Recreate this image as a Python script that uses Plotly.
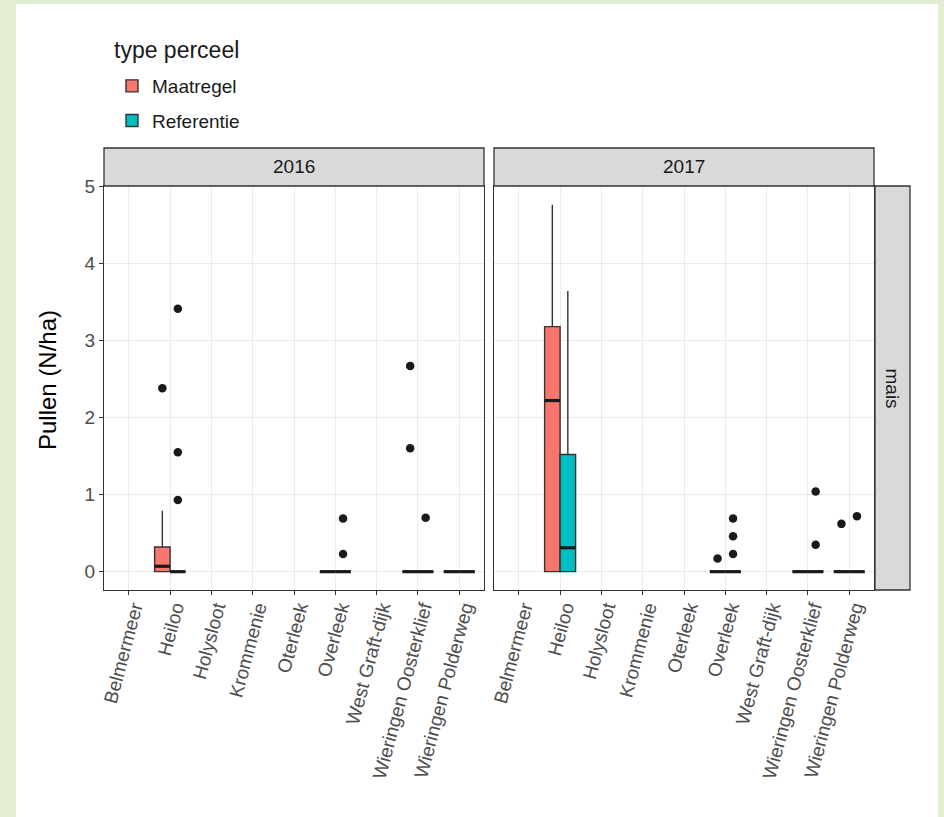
import plotly.graph_objects as go

# ---------------- data ----------------
sites = ["Belmermeer", "Heiloo", "Holysloot", "Krommenie", "Oterleek",
         "Overleek", "West Graft-dijk", "Wieringen Oosterklief", "Wieringen Polderweg"]
years = ["2016", "2017"]
types = ["Maatregel", "Referentie"]

box_sites = ["Heiloo", "Overleek", "Wieringen Oosterklief", "Wieringen Polderweg"]

maat_2016_low = [0.0, 0.0, 0.0, 0.0]
maat_2016_q1 = [0.0, 0.0, 0.0, 0.0]
maat_2016_med = [0.07, 0.0, 0.0, 0.0]
maat_2016_q3 = [0.32, 0.0, 0.0, 0.0]
maat_2016_high = [0.79, 0.0, 0.0, 0.0]

ref_2016_low = [0.0, 0.0, 0.0, 0.0]
ref_2016_q1 = [0.0, 0.0, 0.0, 0.0]
ref_2016_med = [0.0, 0.0, 0.0, 0.0]
ref_2016_q3 = [0.0, 0.0, 0.0, 0.0]
ref_2016_high = [0.0, 0.0, 0.0, 0.0]

maat_2017_low = [0.0, 0.0, 0.0, 0.0]
maat_2017_q1 = [0.0, 0.0, 0.0, 0.0]
maat_2017_med = [2.22, 0.0, 0.0, 0.0]
maat_2017_q3 = [3.18, 0.0, 0.0, 0.0]
maat_2017_high = [4.76, 0.0, 0.0, 0.0]

ref_2017_low = [0.0, 0.0, 0.0, 0.0]
ref_2017_q1 = [0.0, 0.0, 0.0, 0.0]
ref_2017_med = [0.31, 0.0, 0.0, 0.0]
ref_2017_q3 = [1.52, 0.0, 0.0, 0.0]
ref_2017_high = [3.64, 0.0, 0.0, 0.0]

out_2016_site = ["Heiloo", "Heiloo", "Heiloo", "Heiloo", "Overleek", "Overleek",
                 "Wieringen Oosterklief", "Wieringen Oosterklief", "Wieringen Oosterklief"]
out_2016_type = ["Maatregel", "Referentie", "Referentie", "Referentie", "Referentie", "Referentie",
                 "Maatregel", "Maatregel", "Referentie"]
out_2016_value = [2.38, 3.41, 1.55, 0.93, 0.69, 0.23, 2.67, 1.60, 0.70]

out_2017_site = ["Overleek", "Overleek", "Overleek", "Overleek",
                 "Wieringen Oosterklief", "Wieringen Oosterklief",
                 "Wieringen Polderweg", "Wieringen Polderweg"]
out_2017_type = ["Maatregel", "Referentie", "Referentie", "Referentie",
                 "Referentie", "Referentie", "Maatregel", "Referentie"]
out_2017_value = [0.17, 0.69, 0.46, 0.23, 1.04, 0.35, 0.62, 0.72]

y_ticks = [0, 1, 2, 3, 4, 5]

# ---------------- styling ----------------
W, H = 944, 817
L, R, T, B = 104, 874, 186, 590   # plot area in px
colors = {"Maatregel": "#F8766D", "Referentie": "#00BFC4"}
dodge = {"Maatregel": -0.1875, "Referentie": 0.1875}
box_w = 0.375
FONT = "Liberation Sans, Arial, sans-serif"


def px_x(p):
    return (p - L) / (R - L)


def px_y(p):
    return (B - p) / (B - T)


stats = {
    ("2016", "Maatregel"): (maat_2016_low, maat_2016_q1, maat_2016_med, maat_2016_q3, maat_2016_high),
    ("2016", "Referentie"): (ref_2016_low, ref_2016_q1, ref_2016_med, ref_2016_q3, ref_2016_high),
    ("2017", "Maatregel"): (maat_2017_low, maat_2017_q1, maat_2017_med, maat_2017_q3, maat_2017_high),
    ("2017", "Referentie"): (ref_2017_low, ref_2017_q1, ref_2017_med, ref_2017_q3, ref_2017_high),
}
outliers = {
    "2016": (out_2016_site, out_2016_type, out_2016_value),
    "2017": (out_2017_site, out_2017_type, out_2017_value),
}

fig = go.Figure()
axes = {"2016": ("x", "y"), "2017": ("x2", "y2")}

for yi, yr in enumerate(years):
    xa, ya = axes[yr]
    for t in types:
        low, q1, med, q3, high = stats[(yr, t)]
        xs = [sites.index(s) + 1 + dodge[t] for s in box_sites]
        fig.add_trace(go.Box(
            x=xs, q1=q1, median=med, q3=q3, lowerfence=low, upperfence=high,
            width=box_w, whiskerwidth=0, boxpoints=False,
            fillcolor=colors[t], line=dict(color="#333333", width=1.4),
            name=t, legendgroup=t, showlegend=(yi == 0),
            xaxis=xa, yaxis=ya, hoverinfo="skip",
        ))
        # thick median lines (ggplot fatten)
        mx, my = [], []
        for xv, mv in zip(xs, med):
            mx += [xv - box_w / 2, xv + box_w / 2, None]
            my += [mv, mv, None]
        fig.add_trace(go.Scatter(
            x=mx, y=my, mode="lines", line=dict(color="#1a1a1a", width=3.2),
            showlegend=False, xaxis=xa, yaxis=ya, hoverinfo="skip",
        ))
    osite, otype, oval = outliers[yr]
    fig.add_trace(go.Scatter(
        x=[sites.index(s) + 1 + dodge[t] for s, t in zip(osite, otype)],
        y=oval, mode="markers",
        marker=dict(color="#1a1a1a", size=8.5),
        showlegend=False, xaxis=xa, yaxis=ya, hoverinfo="skip",
    ))

xcommon = dict(
    range=[0.4, 9.6], tickmode="array", tickvals=list(range(1, len(sites) + 1)), ticktext=sites,
    tickangle=-75, tickfont=dict(size=19, color="#4d4d4d", family=FONT),
    ticklabelstandoff=-6, ticklabelshift=5,
    ticks="outside", ticklen=4, tickcolor="#333333", tickwidth=1.2,
    showgrid=True, gridcolor="#ebebeb", gridwidth=1.2, zeroline=False,
    showline=True, mirror=True, linecolor="#333333", linewidth=1.3,
)
ycommon = dict(
    range=[-0.238, 5.004], tickmode="array", tickvals=y_ticks,
    tickfont=dict(size=19, color="#4d4d4d", family=FONT),
    ticks="outside", ticklen=4, tickcolor="#333333", tickwidth=1.2,
    showgrid=True, gridcolor="#ebebeb", gridwidth=1.2, zeroline=False,
    showline=True, mirror=True, linecolor="#333333", linewidth=1.3,
)

p1 = [px_x(104), px_x(484)]
p2 = [px_x(494), px_x(874)]

fig.update_layout(
    width=W, height=H,
    margin=dict(l=L, r=W - R, t=T, b=H - B, autoexpand=False),
    paper_bgcolor="#e2edd3", plot_bgcolor="white",
    font=dict(family=FONT, color="#1a1a1a"),
    boxmode="overlay",
    xaxis=dict(domain=p1, anchor="y", **xcommon),
    xaxis2=dict(domain=p2, anchor="y2", **xcommon),
    yaxis=dict(domain=[0, 1], anchor="x", **ycommon),
    yaxis2=dict(domain=[0, 1], anchor="x2", matches="y", **{**ycommon, "showticklabels": False, "ticks": ""}),
    legend=dict(
        x=px_x(112), y=px_y(67), xanchor="left", yanchor="top",
        bgcolor="rgba(0,0,0,0)",
        font=dict(size=19, color="#1a1a1a", family=FONT),
        tracegroupgap=7,
    ),
    showlegend=True,
)

shapes = [
    # white card
    dict(type="rect", xref="paper", yref="paper", x0=px_x(16), x1=px_x(938), y0=px_y(4), y1=px_y(817),
         fillcolor="white", line=dict(width=0), layer="below"),
    # top strips
    dict(type="rect", xref="paper", yref="paper", x0=p1[0], x1=p1[1], y0=px_y(186), y1=px_y(148),
         fillcolor="#d9d9d9", line=dict(color="#333333", width=1.3)),
    dict(type="rect", xref="paper", yref="paper", x0=p2[0], x1=p2[1], y0=px_y(186), y1=px_y(148),
         fillcolor="#d9d9d9", line=dict(color="#333333", width=1.3)),
    # right strip
    dict(type="rect", xref="paper", yref="paper", x0=px_x(875), x1=px_x(910), y0=0, y1=1,
         fillcolor="#d9d9d9", line=dict(color="#333333", width=1.3)),
]
fig.update_layout(shapes=shapes)

ann_common = dict(xref="paper", yref="paper", showarrow=False, xanchor="center", yanchor="middle")
annotations = [
    dict(text=years[0], x=(p1[0] + p1[1]) / 2, y=px_y(167),
         font=dict(size=19, color="#1a1a1a", family=FONT), **ann_common),
    dict(text=years[1], x=(p2[0] + p2[1]) / 2, y=px_y(167),
         font=dict(size=19, color="#1a1a1a", family=FONT), **ann_common),
    dict(text="mais", x=px_x(892.5), y=0.5, textangle=90,
         font=dict(size=19, color="#1a1a1a", family=FONT), **ann_common),
    dict(text="Pullen (N/ha)", x=px_x(47), y=px_y(380), textangle=-90,
         font=dict(size=24, color="#000000", family=FONT), **ann_common),
    dict(text="type perceel", x=px_x(112), y=px_y(50), xref="paper", yref="paper",
         showarrow=False, xanchor="left", yanchor="middle",
         font=dict(size=23, color="#1a1a1a", family=FONT)),
]
fig.update_layout(annotations=annotations)

fig.write_html("out.html", config={"displayModeBar": False},
               post_script="document.body.style.margin='0';document.body.style.background='#e2edd3';")
